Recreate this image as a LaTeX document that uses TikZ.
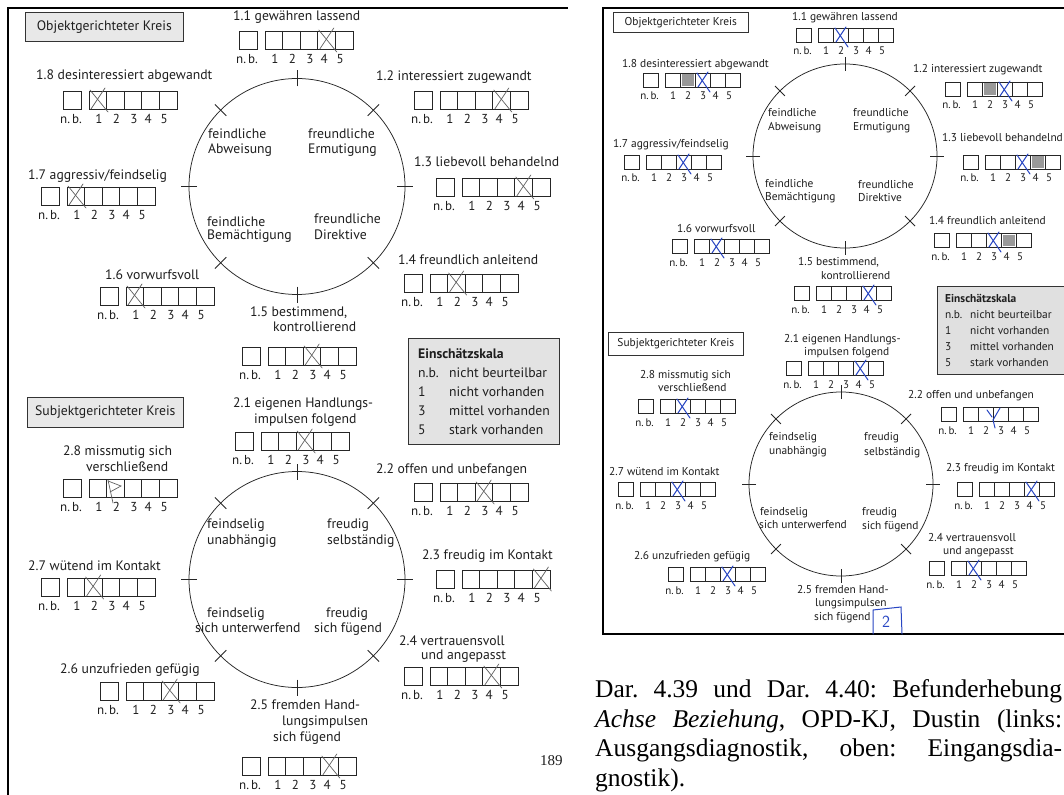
\documentclass[tikz,border=0pt]{standalone}
\usepackage{fontspec}
\setmainfont{Liberation Serif}
\newfontfamily\formfont{PT Sans}
\definecolor{ink}{RGB}{30,30,30}
\definecolor{blueink}{RGB}{40,70,195}

% rating row of the left sheet: name, x, y (top left of the n.b. box), crossed cell (0 = none)
\newcommand\lrow[4]{%
  \begin{scope}[shift={(#2,#3)}]
    \draw[cell] (0,0) rectangle (18,18);
    \draw[cell] (26,0) rectangle (114,18);
    \foreach \i in {1,...,4} \draw[cell] ({26+17.6*\i},0) -- ++(0,18);
    \node[ldig] (#1nb) at (8,32.5) {n.\,b.};
    \foreach \i/\o in {1/1,2/1,3/1,4/-2.5,5/-4}
      \node[ldig] (#1d\i) at ({26+17.6*\i-8.8+\o},32.5) {\i};
    \ifnum#4>0
      \draw[pencil] ({26+17.6*(#4-1)+1},-1) -- ++(18,22);
      \draw[pencil] ({26+17.6*(#4-1)+16},-3) -- ++(-14,21);
    \fi
  \end{scope}}

% rating row of the right sheet: name, x, y, blue cross cell, grey shaded cell
\newcommand\rrow[5]{%
  \begin{scope}[shift={(#2,#3)}]
    \ifnum#5>0 \fill[shade] ({22+15*(#5-1)+1.5},1.5) rectangle ++(12,11.5); \fi
    \draw[rcell] (0,0) rectangle (15.5,14.5);
    \draw[rcell] (22,0) rectangle (97,14.5);
    \foreach \i in {1,...,4} \draw[rcell] ({22+15*\i},0) -- ++(0,14.5);
    \node[rdig] (#1nb) at (6.5,27) {n.\,b.};
    \foreach \i/\o in {1/0.5,2/0.5,3/0.5,4/-2,5/-3.5}
      \node[rdig] (#1d\i) at ({22+15*\i-7.5+\o},27) {\i};
    \ifnum#4>0
      \draw[bluepen] ({22+15*(#4-1)+2},0) -- ++(13,19);
      \draw[bluepen] ({22+15*(#4-1)+13},-1) -- ++(-10,15);
    \fi
  \end{scope}}

\begin{document}
\begin{tikzpicture}[x=1pt,y=-1pt,
  frame/.style={draw=black, line width=2.2pt},
  cell/.style={draw=black!85, line width=0.75pt},
  rcell/.style={draw=black!85, line width=0.7pt},
  ring/.style={draw=black!85, line width=0.75pt},
  pencil/.style={draw=black!62, line width=0.7pt, line cap=round},
  bluepen/.style={draw=blueink, line width=1pt, line cap=round},
  shade/.style={fill=black!40},
  lab/.style={anchor=base west, inner sep=0pt, text=ink, font=\formfont\fontsize{13.7}{16}\selectfont},
  rlab/.style={anchor=base west, inner sep=0pt, text=ink, font=\formfont\fontsize{11.4}{13.5}\selectfont},
  ldig/.style={anchor=base, inner sep=0pt, text=ink, font=\formfont\fontsize{13}{15}\selectfont},
  rdig/.style={anchor=base, inner sep=0pt, text=ink, font=\formfont\fontsize{11}{13}\selectfont},
  titlebox/.style={draw=black!80, line width=0.7pt, fill=black!9, text=ink, inner sep=0pt, anchor=north west},
]
\useasboundingbox (0,0) rectangle (1064,794);
\clip (0,0) rectangle (1064,794);
\fill[white] (0,0) rectangle (1064,794);

%================ left sheet ================
\draw[frame] (8,800) -- (8,8) -- (568,8);

% --- object-directed circle ---
\node[titlebox, minimum width=158pt, minimum height=29pt,
      font=\formfont\fontsize{13.7}{16}\selectfont] (Lobj) at (25,12) {Objektgerichteter Kreis};
\coordinate (Lc1) at (297,186.5);
\draw[ring] (Lc1) circle[radius=108pt];
\foreach \a in {0,45,...,315} \draw[ring] (Lc1) ++(\a:100) -- ++(\a:16);
\node[lab] (Lq1a) at (208,139) {feindliche};
\node[lab] (Lq1b) at (208,154) {Abweisung};
\node[lab] (Lq2a) at (308,139) {freundliche};
\node[lab] (Lq2b) at (308,154) {Ermutigung};
\node[lab] (Lq3a) at (207,226) {feindliche};
\node[lab] (Lq3b) at (207,240) {Bemächtigung};
\node[lab] (Lq4a) at (314,224) {freundliche};
\node[lab] (Lq4b) at (314,239) {Direktive};

\node[lab] (La11) at (233,21) {1.1 gewähren lassend};
\lrow{La11}{239}{31}{4}
\node[lab] (La12) at (376,81) {1.2 interessiert zugewandt};
\lrow{La12}{414}{91}{4}
\node[lab] (La18) at (36,80) {1.8 desinteressiert abgewandt};
\lrow{La18}{63}{91}{1}
\node[lab] (La17) at (28,180) {1.7 aggressiv/feindselig};
\lrow{La17}{41}{187}{1}
\node[lab] (La13) at (414,167) {1.3 liebevoll behandelnd};
\lrow{La13}{436}{178}{4}
\node[lab] (La16) at (105,279) {1.6 vorwurfsvoll};
\lrow{La16}{100}{287}{1}
\node[lab] (La14) at (398,264) {1.4 freundlich anleitend};
\lrow{La14}{404}{274}{2}
\node[lab] (La15a) at (250,316) {1.5 bestimmend,};
\node[lab] (La15b) at (273,331) {kontrollierend};
\lrow{La15}{242}{347}{3}

% --- rating scale legend ---
\node[draw=black!80, line width=0.7pt, fill=black!11, anchor=north west,
      minimum width=151pt, minimum height=106pt, inner sep=0pt] (Lscale) at (408,338) {};
\node[lab, font=\formfont\bfseries\fontsize{13.7}{16}\selectfont] (Lsc0) at (418,358) {Einschätzskala};
\node[lab] (Lsc1a) at (418,377) {n.b.};  \node[lab] (Lsc1b) at (449,377) {nicht beurteilbar};
\node[lab] (Lsc2a) at (418,396) {1};     \node[lab] (Lsc2b) at (449,396) {nicht vorhanden};
\node[lab] (Lsc3a) at (418,415) {3};     \node[lab] (Lsc3b) at (449,415) {mittel vorhanden};
\node[lab] (Lsc4a) at (418,434) {5};     \node[lab] (Lsc4b) at (449,434) {stark vorhanden};

% --- subject-directed circle ---
\node[titlebox, minimum width=156pt, minimum height=30pt,
      font=\formfont\fontsize{13.7}{16}\selectfont] (Lsub) at (27,397) {Subjektgerichteter Kreis};
\coordinate (Lc2) at (297,579.5);
\draw[ring] (Lc2) circle[radius=108pt];
\foreach \a in {0,45,...,315} \draw[ring] (Lc2) ++(\a:100) -- ++(\a:16);
\node[lab] (Lp1a) at (207,528) {feindselig};
\node[lab] (Lp1b) at (207,544) {unabhängig};
\node[lab] (Lp2a) at (327,528) {freudig};
\node[lab] (Lp2b) at (327,544) {selbständig};
\node[lab] (Lp3a) at (207,617) {feindselig};
\node[lab] (Lp3b) at (195,632) {sich unterwerfend};
\node[lab] (Lp4a) at (326,617) {freudig};
\node[lab] (Lp4b) at (314,632) {sich fügend};

\node[lab] (Lb21a) at (233,407) {2.1 eigenen Handlungs-};
\node[lab] (Lb21b) at (254,423) {impulsen folgend};
\lrow{Lb21}{235}{432}{3}
\node[lab] (Lb28a) at (63,455) {2.8 missmutig sich};
\node[lab] (Lb28b) at (86,471) {verschließend};
\lrow{Lb28}{63}{479}{0}
\draw[pencil] (108,481) -- (121,486) -- (110,492);
\draw[pencil] (108,480) -- (113,503);
\node[lab] (Lb22) at (376,473) {2.2 offen und unbefangen};
\lrow{Lb22}{414}{483}{3}
\node[lab] (Lb23) at (422,559) {2.3 freudig im Kontakt};
\lrow{Lb23}{436}{570}{5}
\node[lab] (Lb27) at (28,570) {2.7 wütend im Kontakt};
\lrow{Lb27}{41}{578}{2}
\node[lab] (Lb26) at (60,673) {2.6 unzufrieden gefügig};
\lrow{Lb26}{100}{682}{3}
\node[lab] (Lb24a) at (399,645) {2.4 vertrauensvoll};
\node[lab] (Lb24b) at (421,659) {und angepasst};
\lrow{Lb24}{404}{667}{4}
\node[lab] (Lb25a) at (250,709) {2.5 fremden Hand-};
\node[lab] (Lb25b) at (282,725) {lungsimpulsen};
\node[lab] (Lb25c) at (273,741) {sich fügend};
\lrow{Lb25}{242}{757}{4}

\node[anchor=base west, inner sep=0pt, text=ink, font=\fontsize{15}{15}\selectfont] (pageno) at (540,765) {189};

%================ right sheet ================
\draw[frame] (1075,8) -- (603,8) -- (603,634) -- (1075,634);

\node[titlebox, fill=white, minimum width=135pt, minimum height=20pt,
      font=\formfont\fontsize{11.4}{13.5}\selectfont] (Robj) at (613,12) {Objektgerichteter Kreis};
\coordinate (Rc1) at (845,156);
\draw[ring] (Rc1) circle[radius=92pt];
\foreach \a in {0,45,...,315} \draw[ring] (Rc1) ++(\a:85) -- ++(\a:14);
\node[rlab] (Rq1a) at (768,116.5) {feindliche};
\node[rlab] (Rq1b) at (768,130.5) {Abweisung};
\node[rlab] (Rq2a) at (853,116.5) {freundliche};
\node[rlab] (Rq2b) at (853,130.5) {Ermutigung};
\node[rlab] (Rq3a) at (765,187.5) {feindliche};
\node[rlab] (Rq3b) at (765,200.5) {Bemächtigung};
\node[rlab] (Rq4a) at (858,188.5) {freundliche};
\node[rlab] (Rq4b) at (858,201.5) {Direktive};

\node[rlab] (Ra11) at (792,20.5) {1.1 gewähren lassend};
\rrow{Ra11}{796}{28}{2}{0}
\node[rlab] (Ra18) at (622,67.5) {1.8 desinteressiert abgewandt};
\rrow{Ra18}{643}{73}{3}{2}
\node[rlab] (Ra12) at (913,72.5) {1.2 interessiert zugewandt};
\rrow{Ra12}{945}{82}{3}{2}
\node[rlab] (Ra17) at (613,147.5) {1.7 aggressiv/feindselig};
\rrow{Ra17}{624}{155}{3}{0}
\node[rlab] (Ra13) at (942,141.5) {1.3 liebevoll behandelnd};
\rrow{Ra13}{963}{155}{3}{4}
\node[rlab] (Ra16) at (677,232.5) {1.6 vorwurfsvoll};
\rrow{Ra16}{672}{239}{2}{0}
\node[rlab] (Ra14) at (929,224.5) {1.4 freundlich anleitend};
\rrow{Ra14}{934}{233}{3}{4}
\node[rlab] (Ra15a) at (798,265.5) {1.5 bestimmend,};
\node[rlab] (Ra15b) at (821,279.5) {kontrollierend};
\rrow{Ra15}{794}{286}{4}{0}

\node[draw=black!80, line width=0.7pt, fill=black!12, anchor=north west,
      minimum width=140pt, minimum height=88pt, inner sep=0pt] (Rscale) at (937,286) {};
\node[rlab, font=\formfont\bfseries\fontsize{11.4}{13.5}\selectfont] (Rsc0) at (945,302.5) {Einschätzskala};
\node[rlab] (Rsc1a) at (945,318.5) {n.b.};  \node[rlab] (Rsc1b) at (970,318.5) {nicht beurteilbar};
\node[rlab] (Rsc2a) at (945,334.5) {1};     \node[rlab] (Rsc2b) at (970,334.5) {nicht vorhanden};
\node[rlab] (Rsc3a) at (945,350.5) {3};     \node[rlab] (Rsc3b) at (970,350.5) {mittel vorhanden};
\node[rlab] (Rsc4a) at (945,366.5) {5};     \node[rlab] (Rsc4b) at (970,366.5) {stark vorhanden};

\node[titlebox, fill=white, minimum width=135pt, minimum height=23pt,
      font=\formfont\fontsize{11.4}{13.5}\selectfont] (Rsub) at (608,332) {Subjektgerichteter Kreis};
\coordinate (Rc2) at (841,484);
\draw[ring] (Rc2) circle[radius=92pt];
\foreach \a in {0,45,...,315} \draw[ring] (Rc2) ++(\a:85) -- ++(\a:14);
\node[rlab] (Rp1a) at (769,440.5) {feindselig};
\node[rlab] (Rp1b) at (769,454.5) {unabhängig};
\node[rlab] (Rp2a) at (864,440.5) {freudig};
\node[rlab] (Rp2b) at (864,455.5) {selbständig};
\node[rlab] (Rp3a) at (760,515.5) {feindselig};
\node[rlab] (Rp3b) at (759,528.5) {sich unterwerfend};
\node[rlab] (Rp4a) at (862,515.5) {freudig};
\node[rlab] (Rp4b) at (862,529.5) {sich fügend};

\node[rlab] (Rb21a) at (784,342.5) {2.1 eigenen Handlungs-};
\node[rlab] (Rb21b) at (804,355.5) {impulsen folgend};
\rrow{Rb21}{786}{361}{4}{0}
\node[rlab] (Rb28a) at (640,378.5) {2.8 missmutig sich};
\node[rlab] (Rb28b) at (658,391.5) {verschließend};
\rrow{Rb28}{638}{399}{2}{0}
\node[rlab] (Rb22) at (908,398.5) {2.2 offen und unbefangen};
\rrow{Rb22}{941}{407}{0}{0}
\draw[bluepen] (1000,408) -- (993,420) -- (995,428);
\draw[bluepen] (987,410) -- (992,417);
\node[rlab] (Rb27) at (609,475.5) {2.7 wütend im Kontakt};
\rrow{Rb27}{618}{482}{3}{0}
\node[rlab] (Rb23) at (946,471.5) {2.3 freudig im Kontakt};
\rrow{Rb23}{957}{482}{4}{0}
\node[rlab] (Rb26) at (634,559.5) {2.6 unzufrieden gefügig};
\rrow{Rb26}{668}{567}{3}{0}
\node[rlab] (Rb24a) at (928,541.5) {2.4 vertrauensvoll};
\node[rlab] (Rb24b) at (943,554.5) {und angepasst};
\rrow{Rb24}{929}{561}{2}{0}
\node[rlab] (Rb25a) at (797,593.5) {2.5 fremden Hand-};
\node[rlab] (Rb25b) at (815,606.5) {lungsimpulsen};
\node[rlab] (Rb25c) at (814,620.5) {sich fügend};
\draw[bluepen] (873,634) -- (873,610) -- (901,607) -- (902,634);
\node[text=blueink, inner sep=0pt, font=\sffamily\fontsize{17}{17}\selectfont] (Rb25v) at (886,622) {2};

%================ caption ================
\node[anchor=north west, inner sep=0pt, text width=467pt, align=justify, text=black,
      font=\frenchspacing\fontsize{25.5}{29.5}\selectfont] (caption) at (595,679.5)
  {Dar. 4.39 und Dar. 4.40: Befunderhebung\linebreak
   \textit{Achse Beziehung}, OPD-KJ, Dustin (links:\linebreak
   Ausgangsdiagnostik, oben: Eingangsdia-\linebreak
   gnostik).};
\end{tikzpicture}
\end{document}
